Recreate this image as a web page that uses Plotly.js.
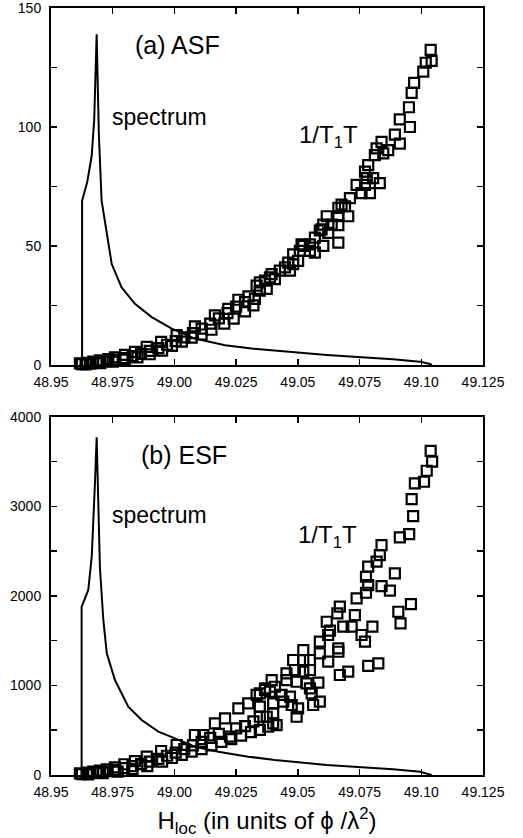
<!DOCTYPE html>
<html>
<head>
<meta charset="utf-8">
<script src="https://cdn.plot.ly/plotly-3.0.1.min.js"></script>
<style>html,body{margin:0;padding:0;background:#fff;}#chart{width:523px;height:838px;}</style>
</head>
<body>
<div id="chart"></div>
<script>
// ---------- Data ----------
const xTickVals = [48.95, 48.975, 49.00, 49.025, 49.05, 49.075, 49.10, 49.125];
const xTickText = ["48.95", "48.975", "49.00", "49.025", "49.05", "49.075", "49.10", "49.125"];

const yTopTickVals = [0, 50, 100, 150];
const yTopTickText = ["0", "50", "100", "150"];
const yBotTickVals = [0, 1000, 2000, 3000, 4000];
const yBotTickText = ["0", "1000", "2000", "3000", "4000"];

// (a) ASF spectrum
const specA_x = [48.9626, 48.9626, 48.9647, 48.9665, 48.9675, 48.9682, 48.9685, 48.9688, 48.9694, 48.9705, 48.9726, 48.9746, 48.9786, 48.9840, 48.9908, 48.9989, 49.0083, 49.0205, 49.0313, 49.0407, 49.0617, 49.0885, 49.0995, 49.1035, 49.1043];
const specA_y = [0, 69, 77, 88, 103, 124, 139, 124, 96.5, 69, 56, 42.4, 32.6, 25.7, 20.1, 15.3, 11.1, 8.3, 6.9, 6.0, 4.2, 2.4, 1.4, 0.4, 0];

// (a) ASF 1/T1T
const rateA_x = [48.9617, 48.9625, 48.9640, 48.9645, 48.9660, 48.9671, 48.9690, 48.9698, 48.9700, 48.9725,
  48.9732, 48.9750, 48.9759, 48.9760, 48.9795, 48.9800, 48.9800, 48.9830, 48.9840, 48.9850,
  48.9865, 48.9888, 48.9900, 48.9900, 48.9935, 48.9946, 48.9950, 48.9970, 48.9990, 49.0005,
  49.0009, 49.0030, 49.0040, 49.0070, 49.0075, 49.0083, 49.0110, 49.0110, 49.0145, 49.0150,
  49.0164, 49.0180, 49.0202, 49.0215, 49.0218, 49.0240, 49.0250, 49.0259, 49.0286, 49.0286,
  49.0300, 49.0320, 49.0326, 49.0333, 49.0346, 49.0346, 49.0367, 49.0374, 49.0387, 49.0394,
  49.0407, 49.0427, 49.0448, 49.0461, 49.0468, 49.0481, 49.0481, 49.0501, 49.0508, 49.0515,
  49.0522, 49.0549, 49.0549, 49.0569, 49.0569, 49.0589, 49.0596, 49.0603, 49.0603, 49.0617,
  49.0623, 49.0637, 49.0664, 49.0664, 49.0664, 49.0664, 49.0677, 49.0691, 49.0704, 49.0711,
  49.0738, 49.0758, 49.0772, 49.0772, 49.0779, 49.0785, 49.0792, 49.0805, 49.0812, 49.0819,
  49.0832, 49.0839, 49.0846, 49.0866, 49.0893, 49.0913, 49.0913, 49.0950, 49.0954, 49.0961,
  49.0971, 49.1008, 49.1018, 49.1038, 49.1042];
const rateA_y = [0.7, 0.3, 0.2, 0.9, 0.6, 1.4, 1.1, 1.9, 0.8, 1.6,
  2.5, 1.4, 3.2, 2.2, 2.9, 4.2, 2.2, 3.7, 5.5, 3.2,
  4.7, 7.6, 5.9, 4.5, 7.1, 9.7, 6.0, 8.5, 8.0, 10.0,
  12.5, 9.8, 11.6, 11.5, 13.4, 16.2, 15.3, 12.8, 17.4, 14.8,
  20.8, 19.6, 17.4, 21.8, 23.6, 19.5, 24.5, 27.4, 22.5, 26.4,
  28.8, 25.0, 27.8, 33.3, 34.7, 31.25, 35.4, 32.0, 36.8, 38.2,
  36.1, 39.6, 41.0, 43.0, 39.6, 46.5, 42.4, 43.75, 47.9, 50.7,
  50.0, 50.7, 47.9, 47.2, 53.5, 56.5, 57.0, 50.0, 59.0, 62.5,
  55.5, 59.0, 51.4, 58.75, 62.5, 66.0, 67.4, 66.7, 62.5, 70.1,
  75.7, 72.2, 75.7, 81.25, 78.5, 84.0, 72.2, 78.5, 88.2, 91.0,
  76.4, 93.75, 88.9, 90.3, 96.8, 93.0, 103.2, 108.3, 100.0, 114.3,
  118.5, 123.3, 127.0, 132.4, 127.8];

// (b) ESF spectrum
const specB_x = [48.9624, 48.9624, 48.9651, 48.9665, 48.9678, 48.9685, 48.9688, 48.9698, 48.9712, 48.9726, 48.9759, 48.9813, 48.9867, 48.9935, 49.0002, 49.0083, 49.0178, 49.0299, 49.0407, 49.0617, 49.0885, 49.0995, 49.1042];
const specB_y = [0, 1877, 2067, 2439, 3259, 3773, 3443, 2327, 1732, 1359, 1061, 763, 614, 484, 410, 316, 260, 205, 168, 112, 64, 37, 0];

// (b) ESF 1/T1T
const rateB_x = [48.9617, 48.9645, 48.9671, 48.9698, 48.9726, 48.9759, 48.9797, 48.9840, 48.9888, 48.9946,
  49.0009, 49.0083, 49.0117, 49.0164, 49.0205, 49.0259, 49.0299, 49.0333, 49.0367, 49.0394,
  48.9625, 48.9660, 48.9690, 48.9725, 48.9760, 48.9795, 48.9830, 48.9865, 48.9900, 48.9935,
  48.9970, 49.0005, 49.0040, 49.0075, 49.0110, 49.0145, 49.0180, 49.0225, 49.0250, 49.0286,
  49.0320,
  48.9650, 48.9710, 48.9770, 48.9830, 48.9890, 48.9950, 48.9990, 49.0030, 49.0070, 49.0110,
  49.0150, 49.0190, 49.0230, 49.0270, 49.0310, 49.0346, 49.0380, 49.0400,
  49.0346, 49.0346, 49.0346, 49.0367, 49.0374, 49.0387, 49.0400, 49.0400, 49.0407, 49.0414,
  49.0434, 49.0441, 49.0454, 49.0454, 49.0468, 49.0475, 49.0481, 49.0488, 49.0495, 49.0495,
  49.0501, 49.0522, 49.0522, 49.0522, 49.0535, 49.0549, 49.0549, 49.0549, 49.0556, 49.0562,
  49.0583, 49.0589, 49.0589, 49.0589, 49.0617, 49.0623, 49.0623, 49.0630, 49.0660, 49.0664,
  49.0664, 49.0670, 49.0670, 49.0684, 49.0704, 49.0718, 49.0731, 49.0738, 49.0758, 49.0772,
  49.0776, 49.0776, 49.0785, 49.0785, 49.0785, 49.0802, 49.0819, 49.0826, 49.0832, 49.0839,
  49.0839, 49.0873, 49.0893, 49.0907, 49.0913, 49.0916, 49.0951, 49.0958, 49.0961, 49.0967,
  49.0974, 49.1011, 49.1022, 49.1038, 49.1044];
const rateB_y = [19, 26, 37, 48, 63, 86, 120, 156, 205, 268,
  335, 447, 447, 577, 633, 745, 801, 894, 968, 1061,
  10, 20, 30, 42, 58, 76, 98, 122, 150, 180,
  215, 250, 290, 330, 370, 415, 460, 428, 520, 547,
  600,
  8, 20, 38, 65, 100, 150, 190, 225, 260, 290,
  330, 370, 400, 440, 480, 503, 540, 577,
  912, 763, 651, 950, 651, 930, 801, 689, 986, 558,
  894, 819, 1136, 1061, 875, 782, 1285, 1173, 1042, 651,
  745, 1396, 1285, 1154, 1024, 1285, 1173, 968, 912, 782,
  1031, 1489, 1359, 819, 1712, 1564, 1266, 1612, 1806, 1415,
  1377, 1880, 1117, 1657, 1154, 1657, 1787, 1974, 1564, 1489,
  2215, 2036, 2327, 2122, 1218, 1657, 2383, 1248, 2457, 2569,
  2111, 2059, 2253, 1824, 2655, 1695, 2692, 1910, 3083, 2893,
  3258, 3276, 3399, 3622, 3500];

// ---------- Styles ----------
const FONT = "Liberation Sans, Arial, Helvetica, sans-serif";
const lineStyle = {color: "#000", width: 2};
const markerStyle = {symbol: "square-open", size: 10, color: "#000", line: {color: "#000", width: 2.2}};

const traces = [
  {x: specA_x, y: specA_y, type: "scatter", mode: "lines", line: lineStyle, xaxis: "x", yaxis: "y", hoverinfo: "skip"},
  {x: rateA_x, y: rateA_y, type: "scatter", mode: "markers", marker: markerStyle, xaxis: "x", yaxis: "y", cliponaxis: false},
  {x: specB_x, y: specB_y, type: "scatter", mode: "lines", line: lineStyle, xaxis: "x2", yaxis: "y2", hoverinfo: "skip"},
  {x: rateB_x, y: rateB_y, type: "scatter", mode: "markers", marker: markerStyle, xaxis: "x2", yaxis: "y2", cliponaxis: false}
];

const axisCommon = {
  showline: true, linecolor: "#000", linewidth: 2, mirror: "ticks",
  ticks: "inside", ticklen: 6, tickwidth: 1.5, tickcolor: "#000",
  showgrid: false, zeroline: false, ticklabeloverflow: "allow",
  tickfont: {family: FONT, size: 14, color: "#000"}
};

const xAxisBase = Object.assign({}, axisCommon, {
  range: [48.95, 49.125], tickmode: "array", tickvals: xTickVals, ticktext: xTickText,
  ticklabelstandoff: 3
});

const layout = {
  width: 523, height: 838,
  margin: {l: 51, r: 40, t: 8, b: 63},
  paper_bgcolor: "#fff", plot_bgcolor: "#fff",
  showlegend: false,
  font: {family: FONT, color: "#000"},
  xaxis: Object.assign({}, xAxisBase, {anchor: "y"}),
  yaxis: Object.assign({}, axisCommon, {domain: [0.5346, 1], range: [0, 150], tickmode: "array",
    tickvals: yTopTickVals, ticktext: yTopTickText, anchor: "x", ticklabelstandoff: 5,
    minor: {dtick: 25, tick0: 0, ticks: "inside", ticklen: 6, tickwidth: 1.5, tickcolor: "#000", showgrid: false}}),
  xaxis2: Object.assign({}, xAxisBase, {anchor: "y2",
    title: {text: "H<sub>loc</sub> (in units of ϕ /λ<sup>2</sup>)", font: {family: FONT, size: 24, color: "#000"}}}),
  yaxis2: Object.assign({}, axisCommon, {domain: [0, 0.4668], range: [0, 4000], tickmode: "array",
    tickvals: yBotTickVals, ticktext: yBotTickText, anchor: "x2", ticklabelstandoff: 5,
    minor: {dtick: 500, tick0: 0, ticks: "inside", ticklen: 6, tickwidth: 1.5, tickcolor: "#000", showgrid: false}}),
  annotations: [
    {xref: "x", yref: "y", x: 49.0012, y: 134.6, text: "(a) ASF", showarrow: false, font: {family: FONT, size: 25, color: "#000"}},
    {xref: "x", yref: "y", x: 48.9939, y: 104, text: "spectrum", showarrow: false, font: {family: FONT, size: 23, color: "#000"}},
    {xref: "x", yref: "y", x: 49.0625, y: 96, text: "1/T<sub>1</sub>T", showarrow: false, font: {family: FONT, size: 24, color: "#000"}},
    {xref: "x2", yref: "y2", x: 49.0039, y: 3574, text: "(b) ESF", showarrow: false, font: {family: FONT, size: 25, color: "#000"}},
    {xref: "x2", yref: "y2", x: 48.9939, y: 2904, text: "spectrum", showarrow: false, font: {family: FONT, size: 23, color: "#000"}},
    {xref: "x2", yref: "y2", x: 49.0619, y: 2670, text: "1/T<sub>1</sub>T", showarrow: false, font: {family: FONT, size: 24, color: "#000"}}
  ]
};

Plotly.newPlot("chart", traces, layout, {displayModeBar: false, staticPlot: true});
</script>
</body>
</html>
